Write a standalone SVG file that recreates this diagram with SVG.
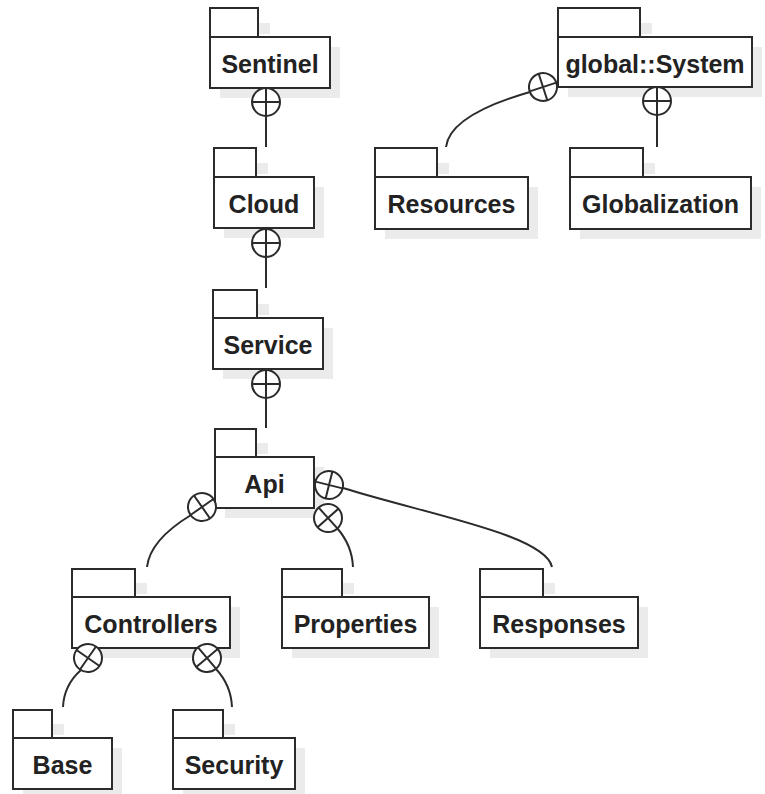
<svg xmlns="http://www.w3.org/2000/svg" width="765" height="794" viewBox="0 0 765 794">
<style>
.sh{fill:#ebebeb;stroke:none}
.box{fill:#fff;stroke:#2b2b2b;stroke-width:2}
.lbl{font-family:"Liberation Sans",Arial,sans-serif;font-weight:bold;font-size:25px;fill:#222;text-anchor:middle}
.ln{fill:none;stroke:#2b2b2b;stroke-width:2}
.cir{fill:#fff;stroke:#2b2b2b;stroke-width:2}
</style>
<rect width="765" height="794" fill="#fff"/>
<g id="Sentinel">
<rect class="sh" x="220" y="47" width="120" height="51"/><rect class="sh" x="259" y="23" width="11" height="11"/>
<rect class="box" x="210" y="8" width="48" height="29"/><rect class="box" x="210" y="37" width="120" height="51"/>
<text class="lbl" x="270" y="73">Sentinel</text>
</g>
<g id="Cloud">
<rect class="sh" x="224" y="187" width="100" height="51"/><rect class="sh" x="257" y="163" width="11" height="11"/>
<rect class="box" x="214" y="148" width="42" height="29"/><rect class="box" x="214" y="177" width="100" height="51"/>
<text class="lbl" x="264" y="213">Cloud</text>
</g>
<g id="Service">
<rect class="sh" x="223" y="328" width="110" height="51"/><rect class="sh" x="258" y="304" width="11" height="11"/>
<rect class="box" x="213" y="290" width="44" height="28"/><rect class="box" x="213" y="318" width="110" height="51"/>
<text class="lbl" x="268" y="354">Service</text>
</g>
<g id="Api">
<rect class="sh" x="225" y="467" width="99" height="51"/><rect class="sh" x="257" y="443" width="11" height="11"/>
<rect class="box" x="215" y="429" width="41" height="28"/><rect class="box" x="215" y="457" width="99" height="51"/>
<text class="lbl" x="264.5" y="493">Api</text>
</g>
<g id="globalSystem">
<rect class="sh" x="568" y="47" width="194" height="50"/><rect class="sh" x="641" y="23" width="11" height="11"/>
<rect class="box" x="558" y="8" width="82" height="29"/><rect class="box" x="558" y="37" width="194" height="50"/>
<text class="lbl" x="655" y="73">global::System</text>
</g>
<g id="Resources">
<rect class="sh" x="385" y="187" width="153" height="52"/><rect class="sh" x="438" y="163" width="11" height="11"/>
<rect class="box" x="375" y="148" width="62" height="29"/><rect class="box" x="375" y="177" width="153" height="52"/>
<text class="lbl" x="451.5" y="213">Resources</text>
</g>
<g id="Globalization">
<rect class="sh" x="580" y="187" width="181" height="52"/><rect class="sh" x="644" y="163" width="11" height="11"/>
<rect class="box" x="570" y="148" width="73" height="29"/><rect class="box" x="570" y="177" width="181" height="52"/>
<text class="lbl" x="660.5" y="213">Globalization</text>
</g>
<g id="Controllers">
<rect class="sh" x="82" y="607" width="158" height="51"/><rect class="sh" x="136" y="583" width="11" height="11"/>
<rect class="box" x="72" y="569" width="63" height="28"/><rect class="box" x="72" y="597" width="158" height="51"/>
<text class="lbl" x="151" y="633">Controllers</text>
</g>
<g id="Properties">
<rect class="sh" x="292" y="607" width="147" height="51"/><rect class="sh" x="343" y="583" width="11" height="11"/>
<rect class="box" x="282" y="569" width="60" height="28"/><rect class="box" x="282" y="597" width="147" height="51"/>
<text class="lbl" x="355.5" y="633">Properties</text>
</g>
<g id="Responses">
<rect class="sh" x="490" y="607" width="158" height="51"/><rect class="sh" x="544" y="583" width="11" height="11"/>
<rect class="box" x="480" y="569" width="63" height="28"/><rect class="box" x="480" y="597" width="158" height="51"/>
<text class="lbl" x="559" y="633">Responses</text>
</g>
<g id="Base">
<rect class="sh" x="23" y="748" width="99" height="51"/><rect class="sh" x="53" y="724" width="11" height="11"/>
<rect class="box" x="13" y="710" width="39" height="28"/><rect class="box" x="13" y="738" width="99" height="51"/>
<text class="lbl" x="62.5" y="774">Base</text>
</g>
<g id="Security">
<rect class="sh" x="183" y="748" width="122" height="51"/><rect class="sh" x="224" y="724" width="11" height="11"/>
<rect class="box" x="173" y="710" width="50" height="28"/><rect class="box" x="173" y="738" width="122" height="51"/>
<text class="lbl" x="234" y="774">Security</text>
</g>
<g id="connectors">
<line class="ln" x1="266" y1="88" x2="266" y2="147"/>
<circle class="cir" cx="266" cy="102" r="14"/><path class="ln" d="M266,88V116M252,102H280"/>
<line class="ln" x1="266" y1="228" x2="266" y2="288"/>
<circle class="cir" cx="266" cy="243" r="14"/><path class="ln" d="M266,229V257M252,243H280"/>
<line class="ln" x1="266" y1="369" x2="266" y2="428"/>
<circle class="cir" cx="266" cy="384" r="14"/><path class="ln" d="M266,370V398M252,384H280"/>
<line class="ln" x1="657" y1="87" x2="657" y2="147"/>
<circle class="cir" cx="657" cy="101" r="14"/><path class="ln" d="M657,87V115M643,101H671"/>
<path class="ln" d="M530,92 Q450,115 446,147"/>
<g transform="translate(543,87) rotate(-18)"><circle class="cir" r="14"/><path class="ln" d="M-14,0H14M0,-14V14"/></g>
<path class="ln" d="M191,515 Q150,540 147,567"/>
<g transform="translate(202,507) rotate(-35)"><circle class="cir" r="14"/><path class="ln" d="M-14,0H14M0,-14V14"/></g>
<path class="ln" d="M337,528 Q352,545 353,567"/>
<g transform="translate(328,518) rotate(48)"><circle class="cir" r="14"/><path class="ln" d="M-14,0H14M0,-14V14"/></g>
<path class="ln" d="M343,488 C430,515 545,535 552,567"/>
<g transform="translate(329,485) rotate(14)"><circle class="cir" r="14"/><path class="ln" d="M-14,0H14M0,-14V14"/></g>
<path class="ln" d="M81,670 Q64,685 63,707"/>
<g transform="translate(88,658) rotate(-55)"><circle class="cir" r="14"/><path class="ln" d="M-14,0H14M0,-14V14"/></g>
<path class="ln" d="M216,669 Q231,685 232,707"/>
<g transform="translate(207,658) rotate(50)"><circle class="cir" r="14"/><path class="ln" d="M-14,0H14M0,-14V14"/></g>
</g>
</svg>
